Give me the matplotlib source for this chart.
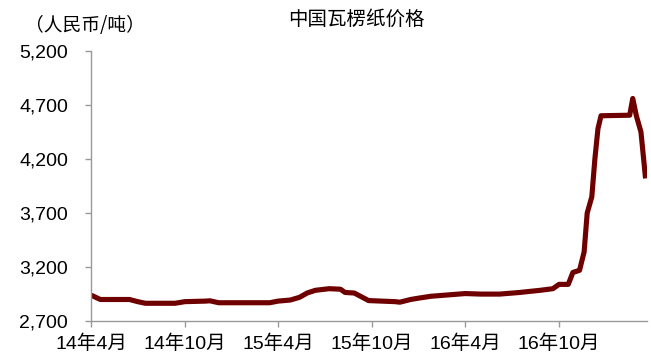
import pandas as pd
import matplotlib.pyplot as plt

plt.rcParams['font.family'] = ['Liberation Sans', 'Noto Sans CJK SC', 'DejaVu Sans']

# 瓦楞纸价格（元/吨）
dates = ["2014-04-01", "2014-04-10", "2014-04-19", "2014-06-15", "2014-07-01",
         "2014-07-16", "2014-09-12", "2014-10-01", "2014-11-10", "2014-11-19",
         "2014-12-06", "2015-03-16", "2015-04-01", "2015-04-25", "2015-05-13",
         "2015-05-28", "2015-06-13", "2015-07-10", "2015-08-01", "2015-08-10",
         "2015-08-28", "2015-09-13", "2015-09-25", "2015-11-16", "2015-11-25",
         "2015-12-16", "2016-01-04", "2016-01-25", "2016-02-21", "2016-04-01",
         "2016-05-01", "2016-06-07", "2016-07-16", "2016-08-25", "2016-09-19",
         "2016-10-01", "2016-10-19", "2016-10-28", "2016-11-10", "2016-11-19",
         "2016-11-25", "2016-12-04", "2016-12-10", "2016-12-16", "2016-12-22",
         "2017-02-16", "2017-02-22", "2017-03-01", "2017-03-10", "2017-03-19"]
price = [2940, 2920, 2900, 2900, 2880,
         2865, 2865, 2880, 2885, 2888,
         2870, 2870, 2885, 2895, 2920,
         2960, 2985, 3000, 2995, 2965,
         2960, 2920, 2890, 2880, 2875,
         2900, 2915, 2930, 2940, 2955,
         2950, 2950, 2965, 2985, 3000,
         3040, 3040, 3150, 3170, 3340,
         3700, 3850, 4200, 4480, 4600,
         4605, 4760, 4600, 4450, 4020]

tick_dates = ["2014-04-01", "2014-10-01", "2015-04-01", "2015-10-01", "2016-04-01", "2016-10-01"]
tick_labels = ["14年4月", "14年10月", "15年4月", "15年10月", "16年4月", "16年10月"]
y_ticks = [2700, 3200, 3700, 4200, 4700, 5200]

x = pd.to_datetime(dates)

fig = plt.figure(figsize=(6.51, 3.56), dpi=100)
ax = fig.add_axes([0.14, 0.098, 0.854, 0.759])
ax.plot(x, price, color='#6e0000', linewidth=3.7, solid_capstyle='butt')

ax.set_xlim(pd.Timestamp("2014-04-01"), pd.Timestamp("2017-03-22"))
ax.set_ylim(2700, 5200)
ax.set_xticks(pd.to_datetime(tick_dates))
ax.set_xticklabels(tick_labels, fontsize=14)
ax.set_yticks(y_ticks)
ax.set_yticklabels([f"{v:,}" for v in y_ticks], fontsize=14)

for s in ['top', 'right']:
    ax.spines[s].set_visible(False)
for s in ['left', 'bottom']:
    ax.spines[s].set_color('#999999')
    ax.spines[s].set_linewidth(1)
ax.tick_params(axis='both', direction='out', length=4.5, color='#999999', width=1)
ax.tick_params(axis='y', pad=12)
ax.tick_params(axis='x', pad=5)

fig.text(0.548, 0.945, "中国瓦楞纸价格", ha='center', va='center', fontsize=14,
         family=['Noto Sans CJK SC'])
fig.text(0.038, 0.927, "（人民币/吨）", ha='left', va='center', fontsize=13.5,
         family=['Noto Sans CJK SC'])

fig.savefig("out.png", dpi=100)
